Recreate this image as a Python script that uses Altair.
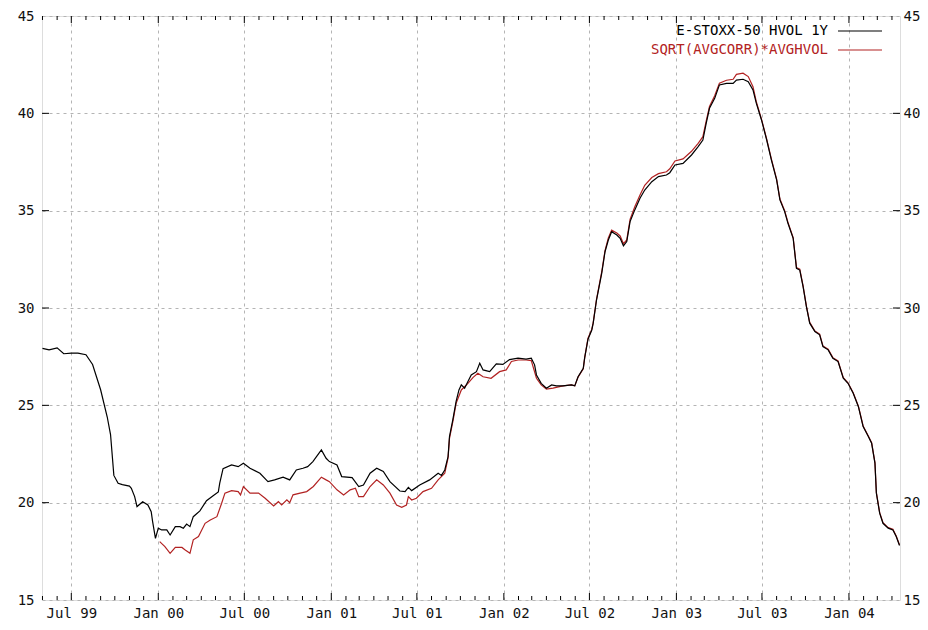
import altair as alt
import pandas as pd

SERIES_A = "E-STOXX-50 HVOL 1Y"
SERIES_B = "SQRT(AVGCORR)*AVGHVOL"
COLOR_A = "#000000"
COLOR_B = "#b22222"

hvol_dates = [
    "1999-05-01", "1999-05-15", "1999-06-01", "1999-06-15", "1999-07-01", "1999-07-15",
    "1999-08-01", "1999-08-15", "1999-09-01", "1999-09-15", "1999-09-22", "1999-09-29",
    "1999-10-08", "1999-10-17", "1999-11-01", "1999-11-05", "1999-11-12", "1999-11-17",
    "1999-11-29", "1999-12-10", "1999-12-17", "1999-12-20", "1999-12-26", "2000-01-01",
    "2000-01-08", "2000-01-19", "2000-01-26", "2000-02-06", "2000-02-16", "2000-02-23",
    "2000-03-01", "2000-03-08", "2000-03-15", "2000-03-29", "2000-04-12", "2000-04-26",
    "2000-05-07", "2000-05-10", "2000-05-17", "2000-06-04", "2000-06-18", "2000-06-29",
    "2000-07-13", "2000-08-03", "2000-08-20", "2000-09-03", "2000-09-21", "2000-10-05",
    "2000-10-19", "2000-11-02", "2000-11-12", "2000-11-23", "2000-12-11", "2000-12-21",
    "2000-12-28", "2001-01-13", "2001-01-23", "2001-02-14", "2001-02-28", "2001-03-10",
    "2001-03-24", "2001-04-07", "2001-04-21", "2001-05-05", "2001-05-26", "2001-06-06",
    "2001-06-13", "2001-06-20", "2001-07-07", "2001-07-28", "2001-08-15", "2001-08-22",
    "2001-08-29", "2001-09-05", "2001-09-08", "2001-09-15", "2001-09-22", "2001-09-28",
    "2001-10-03", "2001-10-10", "2001-10-17", "2001-10-24", "2001-11-04", "2001-11-11",
    "2001-11-18", "2001-12-02", "2001-12-16", "2001-12-30", "2002-01-13", "2002-01-31",
    "2002-02-17", "2002-02-28", "2002-03-07", "2002-03-11", "2002-03-21", "2002-04-01",
    "2002-04-12", "2002-04-22", "2002-05-06", "2002-05-24", "2002-05-31", "2002-06-07",
    "2002-06-18", "2002-06-21", "2002-06-28", "2002-07-06", "2002-07-09", "2002-07-16",
    "2002-07-27", "2002-08-03", "2002-08-10", "2002-08-17", "2002-08-28", "2002-09-04",
    "2002-09-11", "2002-09-18", "2002-09-25", "2002-10-05", "2002-10-16", "2002-10-26",
    "2002-11-10", "2002-11-24", "2002-12-11", "2002-12-18", "2002-12-29", "2003-01-15",
    "2003-02-02", "2003-02-16", "2003-02-26", "2003-03-05", "2003-03-12", "2003-03-23",
    "2003-04-02", "2003-04-17", "2003-05-01", "2003-05-08", "2003-05-22", "2003-06-02",
    "2003-06-12", "2003-06-19", "2003-06-30", "2003-07-11", "2003-07-21", "2003-08-01",
    "2003-08-08", "2003-08-18", "2003-08-25", "2003-09-05", "2003-09-12", "2003-09-19",
    "2003-09-26", "2003-10-03", "2003-10-10", "2003-10-21", "2003-10-31", "2003-11-07",
    "2003-11-18", "2003-11-28", "2003-12-09", "2003-12-20", "2003-12-30", "2004-01-10",
    "2004-01-21", "2004-01-31", "2004-02-11", "2004-02-18", "2004-02-25", "2004-02-28",
    "2004-03-06", "2004-03-13", "2004-03-24", "2004-04-03", "2004-04-10", "2004-04-17",
]
hvol_values = [
    27.93, 27.85, 27.95, 27.65, 27.68, 27.68,
    27.60, 27.10, 25.80, 24.40, 23.50, 21.40,
    21.00, 20.93, 20.85, 20.74, 20.31, 19.80,
    20.05, 19.88, 19.54, 19.03, 18.17, 18.69,
    18.60, 18.60, 18.34, 18.77, 18.77, 18.69,
    18.90, 18.77, 19.28, 19.58, 20.10, 20.35,
    20.55, 21.00, 21.75, 21.94, 21.85, 22.03,
    21.77, 21.51, 21.08, 21.17, 21.31, 21.17,
    21.68, 21.77, 21.85, 22.11, 22.71, 22.28,
    22.11, 21.94, 21.34, 21.29, 20.83, 20.91,
    21.51, 21.77, 21.60, 21.08, 20.60, 20.57,
    20.79, 20.62, 20.91, 21.17, 21.51, 21.40,
    21.68, 22.37, 23.40, 24.25, 25.20, 25.79,
    26.05, 25.88, 26.22, 26.56, 26.73, 27.16,
    26.82, 26.73, 27.13, 27.10, 27.35, 27.42,
    27.37, 27.42, 27.08, 26.56, 26.13, 25.88,
    26.05, 26.00, 26.00, 26.05, 26.00, 26.47,
    26.90, 27.45, 28.40, 28.87, 29.22, 30.41,
    31.78, 32.89, 33.49, 33.92, 33.75, 33.58,
    33.19, 33.41, 34.44, 35.04, 35.64, 36.06,
    36.49, 36.75, 36.83, 36.95, 37.35, 37.43,
    37.86, 38.29, 38.63, 39.49, 40.26, 40.77,
    41.46, 41.54, 41.54, 41.71, 41.75, 41.63,
    41.20, 40.52, 39.66, 38.63, 37.60, 36.58,
    35.55, 34.95, 34.35, 33.58, 32.04, 31.95,
    31.10, 30.07, 29.22, 28.79, 28.62, 28.02,
    27.85, 27.42, 27.25, 26.39, 26.13, 25.62,
    24.93, 23.91, 23.40, 23.05, 22.03, 20.49,
    19.46, 18.94, 18.69, 18.60, 18.26, 17.80,
]

corr_dates = [
    "2000-01-04", "2000-01-15", "2000-01-26", "2000-02-06", "2000-02-20", "2000-02-27",
    "2000-03-08", "2000-03-15", "2000-03-26", "2000-04-09", "2000-04-20", "2000-05-04",
    "2000-05-14", "2000-05-21", "2000-06-04", "2000-06-18", "2000-06-23", "2000-06-29",
    "2000-07-13", "2000-07-31", "2000-08-14", "2000-09-01", "2000-09-11", "2000-09-18",
    "2000-09-29", "2000-10-05", "2000-10-12", "2000-10-27", "2000-11-10", "2000-11-24",
    "2000-12-11", "2000-12-21", "2000-12-28", "2001-01-13", "2001-01-27", "2001-02-10",
    "2001-02-21", "2001-02-28", "2001-03-10", "2001-03-24", "2001-04-07", "2001-04-21",
    "2001-05-05", "2001-05-19", "2001-05-30", "2001-06-09", "2001-06-13", "2001-06-20",
    "2001-06-30", "2001-07-14", "2001-08-01", "2001-08-15", "2001-08-29", "2001-09-05",
    "2001-09-08", "2001-09-15", "2001-09-22", "2001-10-03", "2001-10-17", "2001-10-28",
    "2001-11-07", "2001-11-18", "2001-12-05", "2001-12-23", "2002-01-06", "2002-01-17",
    "2002-01-31", "2002-02-17", "2002-02-28", "2002-03-11", "2002-03-21", "2002-04-01",
    "2002-04-15", "2002-05-06", "2002-05-24", "2002-05-31", "2002-06-07", "2002-06-18",
    "2002-06-21", "2002-06-28", "2002-07-06", "2002-07-09", "2002-07-16", "2002-07-27",
    "2002-08-03", "2002-08-10", "2002-08-17", "2002-08-28", "2002-09-04", "2002-09-11",
    "2002-09-18", "2002-09-25", "2002-10-05", "2002-10-16", "2002-10-26", "2002-11-10",
    "2002-11-24", "2002-12-11", "2002-12-18", "2002-12-29", "2003-01-15", "2003-02-02",
    "2003-02-16", "2003-02-26", "2003-03-05", "2003-03-12", "2003-03-23", "2003-04-02",
    "2003-04-17", "2003-05-01", "2003-05-08", "2003-05-22", "2003-06-02", "2003-06-12",
    "2003-06-19", "2003-06-30", "2003-07-11", "2003-07-21", "2003-08-01", "2003-08-08",
    "2003-08-18", "2003-08-25", "2003-09-05", "2003-09-12", "2003-09-19", "2003-09-26",
    "2003-10-03", "2003-10-10", "2003-10-21", "2003-10-31", "2003-11-07", "2003-11-18",
    "2003-11-28", "2003-12-09", "2003-12-20", "2003-12-30", "2004-01-10", "2004-01-21",
    "2004-01-31", "2004-02-11", "2004-02-18", "2004-02-25", "2004-02-28", "2004-03-06",
    "2004-03-13", "2004-03-24", "2004-04-03", "2004-04-10", "2004-04-17",
]
corr_values = [
    18.00, 17.74, 17.40, 17.70, 17.70, 17.57,
    17.40, 18.09, 18.26, 18.94, 19.11, 19.28,
    19.97, 20.49, 20.62, 20.57, 20.40, 20.83,
    20.49, 20.49, 20.23, 19.83, 20.05, 19.88,
    20.14, 20.00, 20.40, 20.49, 20.57, 20.83,
    21.31, 21.17, 21.08, 20.66, 20.40, 20.66,
    20.74, 20.31, 20.31, 20.83, 21.17, 20.91,
    20.49, 19.88, 19.76, 19.88, 20.31, 20.14,
    20.23, 20.57, 20.74, 21.17, 21.51, 22.30,
    23.30, 24.15, 25.10, 25.79, 26.13, 26.44,
    26.65, 26.47, 26.39, 26.73, 26.82, 27.25,
    27.33, 27.33, 27.30, 26.39, 26.05, 25.83,
    25.88, 26.00, 26.05, 26.00, 26.45, 26.88,
    27.45, 28.45, 28.90, 29.25, 30.45, 31.85,
    32.95, 33.60, 34.00, 33.85, 33.70, 33.30,
    33.50, 34.55, 35.20, 35.80, 36.30, 36.70,
    36.90, 37.00, 37.15, 37.55, 37.66, 38.05,
    38.46, 38.80, 39.60, 40.35, 40.90, 41.55,
    41.70, 41.75, 42.00, 42.06, 41.89, 41.37,
    40.60, 39.70, 38.68, 37.65, 36.62, 35.60,
    35.00, 34.40, 33.62, 32.08, 32.00, 31.14,
    30.10, 29.26, 28.82, 28.66, 28.05, 27.88,
    27.45, 27.28, 26.42, 26.16, 25.65, 24.96,
    23.94, 23.43, 23.08, 22.06, 20.52, 19.49,
    18.97, 18.72, 18.63, 18.29, 17.83,
]

x_tick_dates = [
    "1999-07-01", "2000-01-01", "2000-07-01", "2001-01-01", "2001-07-01",
    "2002-01-01", "2002-07-01", "2003-01-01", "2003-07-01", "2004-01-01",
]
y_ticks = [15, 20, 25, 30, 35, 40, 45]
x_range = ["1999-04-30", "2004-04-18"]
y_range = [15, 45]

W, H = 858, 584
FONT = "DejaVu Sans Mono"
FS = 14
GRID = "#b4b4b4"


def dt(s):
    t = pd.Timestamp(s)
    return alt.DateTime(year=t.year, month=t.month, date=t.day)


df_a = pd.DataFrame({"date": pd.to_datetime(hvol_dates), "value": hvol_values})
df_b = pd.DataFrame({"date": pd.to_datetime(corr_dates), "value": corr_values})

months = pd.date_range("1999-05-01", "2004-04-01", freq="MS")
tick_df = pd.DataFrame({"date": months})
tick_df["major"] = tick_df["date"].dt.month.isin([1, 7])
major_df = tick_df[tick_df["major"]]
minor_df = tick_df[~tick_df["major"]]
ytick_df = pd.DataFrame({"v": y_ticks[1:-1]})

xscale = alt.Scale(domain=[dt(x_range[0]), dt(x_range[1])], nice=False)
yscale = alt.Scale(domain=y_range, nice=False, zero=False)

x_axis = alt.Axis(
    values=[dt(s) for s in x_tick_dates], format="%b %y", title=None,
    tickSize=0, domain=False, grid=True, gridDash=[3, 4], gridColor=GRID,
    labelPadding=6, labelFont=FONT, labelFontSize=FS, labelColor="#111",
    labelFlush=False, labelOverlap=False,
)
y_axis_left = alt.Axis(
    values=y_ticks, title=None, tickSize=0, domain=False, grid=True,
    gridDash=[3, 4], gridColor=GRID, labelPadding=8, labelFont=FONT,
    labelFontSize=FS, labelColor="#111", labelFlush=False,
)
y_axis_right = alt.Axis(
    orient="right", values=y_ticks, title=None, tickSize=0, domain=False,
    grid=False, labelPadding=3, labelFont=FONT, labelFontSize=FS,
    labelColor="#111", labelFlush=False,
)

X = alt.X("date:T", scale=xscale, title=None)

line_b = alt.Chart(df_b).mark_line(color=COLOR_B, strokeWidth=1.2).encode(
    x=alt.X("date:T", scale=xscale, axis=x_axis),
    y=alt.Y("value:Q", scale=yscale, axis=y_axis_left),
)
line_a = alt.Chart(df_a).mark_line(color=COLOR_A, strokeWidth=1.2).encode(
    x=X,
    y=alt.Y("value:Q", scale=yscale, axis=None),
)
right_axis = alt.Chart(df_a).mark_line(opacity=0).encode(
    x=X,
    y=alt.Y("value:Q", scale=yscale, axis=y_axis_right),
)

tick_color = "#000"
bot_major = alt.Chart(major_df).mark_rule(color=tick_color).encode(
    x=X, y=alt.value(H), y2=alt.value(H - 7))
top_major = alt.Chart(major_df).mark_rule(color=tick_color).encode(
    x=X, y=alt.value(0), y2=alt.value(7))
bot_minor = alt.Chart(minor_df).mark_rule(color=tick_color).encode(
    x=X, y=alt.value(H), y2=alt.value(H - 4))
top_minor = alt.Chart(minor_df).mark_rule(color=tick_color).encode(
    x=X, y=alt.value(0), y2=alt.value(4))
left_ticks = alt.Chart(ytick_df).mark_rule(color=tick_color).encode(
    y=alt.Y("v:Q", scale=yscale, axis=None), x=alt.value(0), x2=alt.value(7))
right_ticks = alt.Chart(ytick_df).mark_rule(color=tick_color).encode(
    y=alt.Y("v:Q", scale=yscale, axis=None), x=alt.value(W), x2=alt.value(W - 7))

one = alt.Data(values=[{"k": 0}])
leg_text_a = alt.Chart(one).mark_text(
    align="right", baseline="middle", font=FONT, fontSize=FS, color=COLOR_A
).encode(x=alt.value(786), y=alt.value(15), text=alt.value(SERIES_A))
leg_text_b = alt.Chart(one).mark_text(
    align="right", baseline="middle", font=FONT, fontSize=FS, color=COLOR_B
).encode(x=alt.value(786), y=alt.value(34), text=alt.value(SERIES_B))
leg_line_a = alt.Chart(one).mark_rule(color=COLOR_A, strokeWidth=1.2).encode(
    x=alt.value(796), x2=alt.value(840), y=alt.value(15))
leg_line_b = alt.Chart(one).mark_rule(color=COLOR_B, strokeWidth=1.2).encode(
    x=alt.value(796), x2=alt.value(840), y=alt.value(34))

chart = alt.layer(
    line_b, line_a, right_axis,
    bot_major, top_major, bot_minor, top_minor, left_ticks, right_ticks,
    leg_text_a, leg_text_b, leg_line_a, leg_line_b,
).resolve_axis(y="independent").properties(
    width=W, height=H,
    autosize=alt.AutoSizeParams(type="none"),
    padding={"left": 34, "top": 8, "right": 20, "bottom": 22},
).configure_view(
    stroke="#000", strokeWidth=1.2
).configure(background="white")

chart.save("out.html", embed_options={"renderer": "svg", "actions": False})
